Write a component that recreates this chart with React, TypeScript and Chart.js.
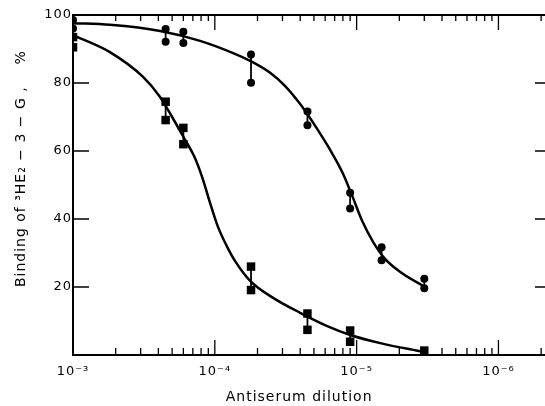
import React, { useEffect, useRef } from "react";
import { Chart, registerables } from "chart.js";

Chart.register(...registerables);

// Reciprocal antiserum dilution (1000 = 10^-3)
const circleX = [1000, 4500, 6000, 18000, 45000, 90000, 150000, 300000];
const circleHigh = [98.5, 95.9, 95.1, 88.4, 71.6, 47.7, 31.7, 22.4];
const circleLow = [96, 92.1, 91.8, 80.1, 67.6, 43.1, 27.9, 19.6];

const squareX = [1000, 4500, 6000, 18000, 45000, 90000, 300000];
const squareHigh = [93.5, 74.5, 66.8, 26, 12.2, 7.2, 1.3];
const squareLow = [90.5, 69.1, 62, 19.1, 7.4, 3.9, null];

// Hand-drawn fitted curves
const circleCurveX = [1000, 1820, 4110, 7870, 13460, 18330, 24550, 31340, 40000, 51030, 65120, 79130, 93090, 109500, 130900, 159200, 213300, 295100];
const circleCurveY = [97.6, 97.1, 95.3, 92.4, 88.8, 86.2, 83, 79.1, 73.8, 67.4, 60.3, 53.8, 46.8, 39.4, 33.2, 28.2, 23.8, 20.3];

const squareCurveX = [1000, 1820, 3120, 4110, 5000, 6070, 7140, 8130, 9265, 10550, 12020, 13910, 17750, 25770, 40000, 62060, 90150, 146800, 295100];
const squareCurveY = [94.1, 89.1, 81.8, 75.9, 70, 63.8, 58.5, 52.4, 44.7, 37.6, 32.4, 27.6, 21.8, 16.8, 12.4, 8.5, 5.9, 3.5, 0.9];

const xMin = 1000;
const xMax = 2200000;
const xDecades = [1000, 10000, 100000, 1000000];
const xTickLabels = ["10\u207B\u00B3", "10\u207B\u2074", "10\u207B\u2075", "10\u207B\u2076"];
const yTicks = [0, 20, 40, 60, 80, 100];

const yTitle = "\u00A0\u00A0\u00A0\u00A0\u00A0\u00A0Binding of \u00B3HE\u2082 \u2212 3 \u2212 G ,    %";
const xTitle = "Antiserum dilution\u00A0\u00A0\u00A0\u00A0";

const framePlugin = {
  id: "frameTicks",
  beforeDraw(chart: any) {
    (chart.ctx as any).letterSpacing = "1px";
  },
  afterDraw(chart: any) {
    const { ctx, chartArea } = chart;
    const { left, right, top, bottom } = chartArea;
    const x = chart.scales.x;
    const y = chart.scales.y;
    ctx.save();
    ctx.strokeStyle = "#000";
    ctx.lineWidth = 2;
    ctx.beginPath();
    ctx.moveTo(left, top);
    ctx.lineTo(left, bottom);
    ctx.lineTo(right, bottom);
    ctx.lineTo(right, top);
    ctx.closePath();
    ctx.stroke();
    ctx.lineWidth = 1.3;
    ctx.beginPath();
    for (const t of x.ticks) {
      const px = x.getPixelForValue(t.value);
      if (px <= left + 1 || px > right) continue;
      const major = xDecades.includes(t.value);
      ctx.moveTo(px, bottom);
      ctx.lineTo(px, bottom - (major ? 15 : 7));
      ctx.moveTo(px, top);
      ctx.lineTo(px, top + (major ? 15 : 6));
    }
    for (const t of y.ticks) {
      if (t.value <= 0 || t.value >= 100) continue;
      const py = y.getPixelForValue(t.value);
      ctx.moveTo(left, py);
      ctx.lineTo(left + 16, py);
      ctx.moveTo(right, py);
      ctx.lineTo(right - 12, py);
    }
    ctx.stroke();
    ctx.restore();
  },
};

function pairDatasets(xs: number[], hi: (number | null)[], lo: (number | null)[], style: string, radius: number) {
  return xs.map((x, i) => {
    const pts: any[] = [];
    if (hi[i] != null) pts.push({ x, y: hi[i] });
    if (lo[i] != null) pts.push({ x, y: lo[i] });
    return {
      data: pts,
      borderColor: "#000",
      borderWidth: 1.8,
      pointStyle: style,
      pointRadius: radius,
      pointBackgroundColor: "#000",
      pointBorderColor: "#000",
      pointBorderWidth: 0,
      tension: 0.01,
      fill: false,
    };
  });
}

export default function App() {
  const ref = useRef<HTMLCanvasElement | null>(null);
  useEffect(() => {
    if (!ref.current) return;
    Chart.defaults.color = "#000";
    Chart.defaults.font.family = "'DejaVu Sans', sans-serif";
    const curve = (xs: number[], ys: number[]) => xs.map((x, i) => ({ x, y: ys[i] }));
    const chart = new Chart(ref.current, {
      type: "line",
      data: {
        datasets: [
          {
            data: curve(circleCurveX, circleCurveY),
            borderColor: "#000",
            borderWidth: 2.5,
            pointRadius: 0,
            cubicInterpolationMode: "monotone",
            fill: false,
          },
          {
            data: curve(squareCurveX, squareCurveY),
            borderColor: "#000",
            borderWidth: 2.5,
            pointRadius: 0,
            cubicInterpolationMode: "monotone",
            fill: false,
          },
          ...pairDatasets(circleX, circleHigh, circleLow, "circle", 4),
          ...pairDatasets(squareX, squareHigh, squareLow, "rect", 6),
        ] as any,
      },
      options: {
        animation: false,
        responsive: false,
        events: [],
        layout: { padding: { top: 15, right: 13, left: 0, bottom: 0 } },
        plugins: { legend: { display: false }, tooltip: { enabled: false } },
        scales: {
          x: {
            type: "logarithmic",
            min: xMin,
            max: xMax,
            grid: { display: false, drawTicks: false },
            border: { display: false },
            afterBuildTicks: (scale: any) => {
              const ticks: any[] = [];
              xDecades.forEach((d) => {
                for (let m = 1; m <= 9; m++) {
                  const v = d * m;
                  if (v <= xMax) ticks.push({ value: v });
                }
              });
              scale.ticks = ticks;
            },
            afterFit: (scale: any) => {
              scale.height = 51;
            },
            ticks: {
              autoSkip: false,
              maxRotation: 0,
              padding: 9,
              font: { size: 13 },
              callback: (v: any) => {
                const i = xDecades.indexOf(Number(v));
                return i >= 0 ? xTickLabels[i] : "";
              },
            },
            title: {
              display: true,
              text: xTitle,
              font: { size: 14 },
              padding: { top: 0, bottom: 0 },
            },
          },
          y: {
            type: "linear",
            min: 0,
            max: 100,
            grid: { display: false, drawTicks: false },
            border: { display: false },
            afterBuildTicks: (scale: any) => {
              scale.ticks = yTicks.map((v) => ({ value: v }));
            },
            afterFit: (scale: any) => {
              scale.width = 73;
            },
            ticks: {
              padding: 1,
              font: { size: 13 },
              callback: (v: any) => (Number(v) === 0 ? "" : String(v)),
            },
            title: {
              display: true,
              text: yTitle,
              font: { size: 14 },
              padding: { top: 13, bottom: 0 },
            },
          },
        },
      },
      plugins: [framePlugin],
    });
    return () => chart.destroy();
  }, []);
  return (
    <div style={{ position: "fixed", left: 0, top: 0, width: 545, height: 406, overflow: "hidden", background: "#fff" }}>
      <canvas ref={ref} width={560} height={406} style={{ display: "block" }} />
    </div>
  );
}
